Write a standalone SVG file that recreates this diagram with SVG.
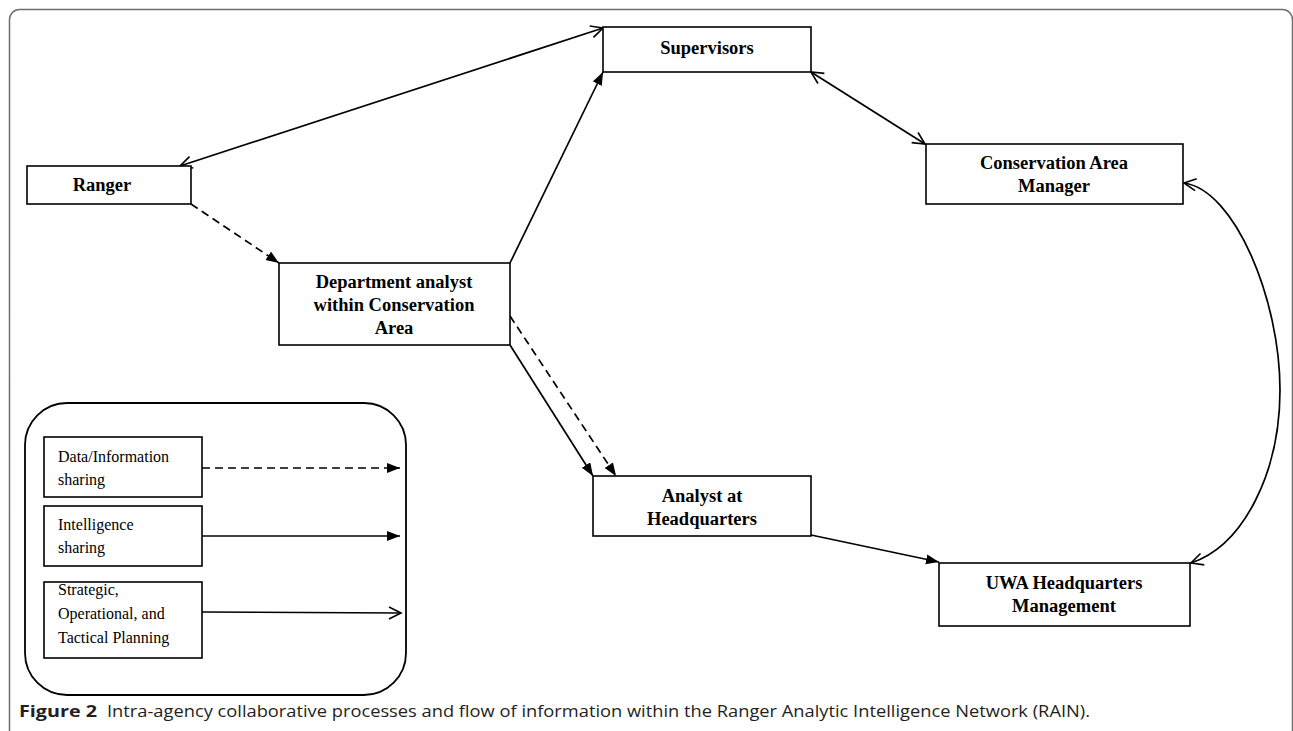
<svg xmlns="http://www.w3.org/2000/svg" width="1293" height="731" viewBox="0 0 1293 731">
<defs>
<style>
.box{fill:#fff;stroke:#000;stroke-width:1.6}
.lbl{font-family:"Liberation Serif","Times New Roman",serif;font-weight:bold;font-size:18.5px;fill:#000;text-anchor:middle}
.leg{font-family:"Liberation Serif","Times New Roman",serif;font-size:16px;fill:#000}
.ln{fill:none;stroke:#000;stroke-width:1.7}
.dash{stroke-dasharray:8 5}
.cap{font-family:"Open Sans","Noto Sans",sans-serif;font-size:16.5px;fill:#231f20}
</style>
<marker id="fa" markerUnits="userSpaceOnUse" markerWidth="14" markerHeight="12" refX="13" refY="5" orient="auto"><path d="M0,0 L13,5 L0,10 Z" fill="#000"/></marker>
<marker id="oa" markerUnits="userSpaceOnUse" markerWidth="16" markerHeight="16" refX="13" refY="7" orient="auto-start-reverse"><path d="M1,1 L13,7 L1,13" fill="none" stroke="#000" stroke-width="1.6"/></marker>
</defs>
<rect x="0" y="0" width="1293" height="731" fill="#fff"/>
<rect x="9.5" y="9.5" width="1283" height="735" rx="10" fill="none" stroke="#6d6e71" stroke-width="1.5"/>

<g id="connectors">
<line class="ln" x1="180" y1="166" x2="603" y2="28" marker-start="url(#oa)" marker-end="url(#oa)"/>
<line class="ln dash" x1="191" y1="204" x2="279" y2="263" marker-end="url(#fa)"/>
<line class="ln" x1="510" y1="263" x2="603" y2="72" marker-end="url(#fa)"/>
<line class="ln" x1="811" y1="72" x2="925" y2="144" marker-start="url(#oa)" marker-end="url(#oa)"/>
<path class="ln" d="M1184,183 C1235,190 1280,300 1280,390 C1280,470 1245,545 1191,563" marker-start="url(#oa)" marker-end="url(#oa)"/>
<line class="ln" x1="510" y1="345" x2="593" y2="476" marker-end="url(#fa)"/>
<line class="ln dash" x1="510" y1="316" x2="616" y2="476" marker-end="url(#fa)"/>
<line class="ln" x1="811" y1="535" x2="939" y2="562" marker-end="url(#fa)"/>
</g>

<g id="ranger"><rect class="box" x="27" y="166" width="164" height="38"/><text class="lbl" x="102" y="191">Ranger</text></g>
<g id="supervisors"><rect class="box" x="603" y="27" width="208" height="45"/><text class="lbl" x="707" y="54">Supervisors</text></g>
<g id="cam"><rect class="box" x="926" y="144" width="257" height="60"/><text class="lbl" x="1054" y="169">Conservation Area</text><text class="lbl" x="1054" y="192">Manager</text></g>
<g id="dept"><rect class="box" x="279" y="263" width="231" height="82"/><text class="lbl" x="394" y="288">Department analyst</text><text class="lbl" x="394" y="311">within Conservation</text><text class="lbl" x="394" y="334">Area</text></g>
<g id="analyst-hq"><rect class="box" x="593" y="476" width="218" height="60"/><text class="lbl" x="702" y="502">Analyst at</text><text class="lbl" x="702" y="525">Headquarters</text></g>
<g id="uwa"><rect class="box" x="939" y="563" width="251" height="63"/><text class="lbl" x="1064" y="589">UWA Headquarters</text><text class="lbl" x="1064" y="612">Management</text></g>

<g id="legend">
<rect x="25" y="403" width="381" height="292" rx="42" fill="none" stroke="#000" stroke-width="1.8"/>
<rect class="box" x="44" y="437" width="158" height="60"/>
<text class="leg" x="58" y="462">Data/Information</text><text class="leg" x="58" y="485">sharing</text>
<rect class="box" x="44" y="506" width="158" height="60"/>
<text class="leg" x="58" y="530">Intelligence</text><text class="leg" x="58" y="553">sharing</text>
<rect class="box" x="44" y="582" width="158" height="76"/>
<text class="leg" x="58" y="595">Strategic,</text><text class="leg" x="58" y="619">Operational, and</text><text class="leg" x="58" y="643">Tactical Planning</text>
<line class="ln dash" x1="202" y1="468" x2="400" y2="468" marker-end="url(#fa)"/>
<line class="ln" x1="202" y1="536" x2="400" y2="536" marker-end="url(#fa)"/>
<line class="ln" x1="202" y1="612" x2="401" y2="613" marker-end="url(#oa)"/>
</g>

<g id="caption">
<text class="cap" x="19" y="717" font-weight="bold" fill="#000" textLength="78" lengthAdjust="spacingAndGlyphs">Figure 2</text>
<text class="cap" x="107" y="717" textLength="983" lengthAdjust="spacingAndGlyphs">Intra-agency collaborative processes and flow of information within the Ranger Analytic Intelligence Network (RAIN).</text>
</g>
</svg>
